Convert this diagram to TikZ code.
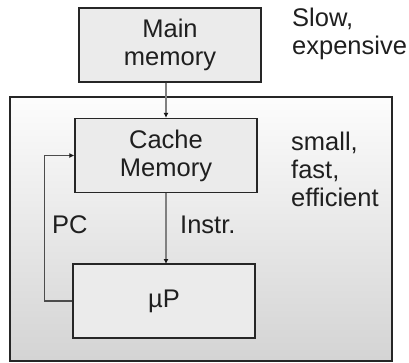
\documentclass[tikz,border=0pt]{standalone}
\usepackage{fontspec}
\setmainfont{Liberation Sans}
\usetikzlibrary{arrows.meta}
\begin{document}
\begin{tikzpicture}[x=1pt,y=-1pt,
  txt/.style={text=black!88,font=\fontsize{25.5}{28}\selectfont},
  blk/.style={draw=black!85,line width=1.3pt,fill=black!8,minimum width=182pt,minimum height=74pt,inner sep=0pt,align=center,txt},
  lbl/.style={txt,align=left,inner sep=0pt,anchor=north west},
  conn/.style={draw=black!50,line width=1.3pt,-{Latex[length=5pt,width=5pt,color=black!90]}}]
\useasboundingbox (0,0) rectangle (409,362);
\shade[top color=black!1,bottom color=black!17] (10,97) rectangle (392,361);
\draw[black!85,line width=1.5pt] (10,97) rectangle (392,361);
\node[blk] (main) at (170,45) {Main\\memory};
\node[blk] (cache) at (166,155.5) {Cache\\Memory};
\node[blk] (up) at (164,301) {µP};
\node[lbl] (slow) at (292,8) {Slow,\\expensive};
\node[lbl] (small) at (291,132) {small,\\fast,\\efficient};
\node[txt,anchor=west,inner sep=0pt] (pc) at (52,225) {PC};
\node[txt,anchor=west,inner sep=0pt] (instr) at (180,225) {Instr.};
\draw[conn] (cache.north |- main.south) -- (cache.north);
\draw[conn] (cache.south -| 166,0) -- (166,264);
\draw[conn,draw=black!70] (up.west) -- ++(-28,0) |- (cache.west);
\end{tikzpicture}
\end{document}
